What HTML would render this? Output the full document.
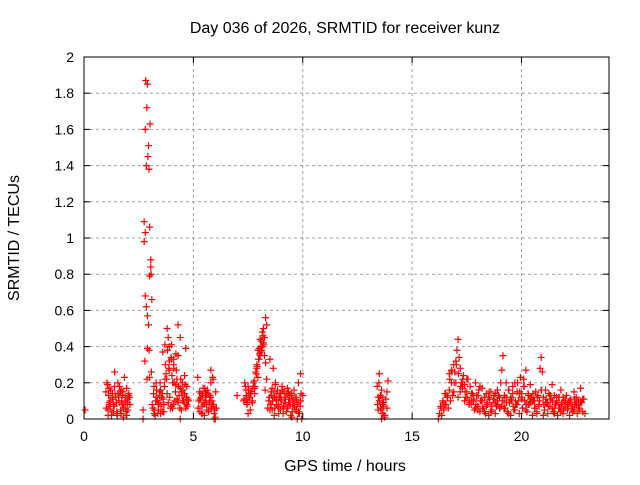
<!DOCTYPE html>
<html><head><meta charset="utf-8"><style>
body{margin:0;background:#fff;font-family:"Liberation Sans",sans-serif}
svg text{font-family:"Liberation Sans",sans-serif;font-size:14px;fill:#000}
svg text.ttl{font-size:16px}
</style></head><body>
<svg id="c" width="640" height="480">
<rect width="640" height="480" fill="#fff"/>
<g id="grid"></g><g id="pts"></g><g id="axes"></g>
</svg>
<script>
const hours=[0.05,1.0,1.05,1.1,1.15,1.2,1.25,1.3,1.35,1.4,1.45,1.5,1.55,1.6,1.65,1.7,1.75,1.8,1.85,1.9,1.95,2.0,2.05,2.1,1.1,1.2,1.3,1.4,1.5,1.6,1.7,1.8,1.9,2.0,1.15,1.35,1.55,1.75,1.95,
2.7,2.75,2.8,2.82,2.85,2.87,2.9,2.92,2.95,2.97,3.0,3.02,3.05,3.07,3.1,2.75,2.8,2.85,2.9,2.95,3.0,3.05,2.8,2.9,3.0,2.7,2.78,2.88,2.98,3.08,
3.15,3.2,3.25,3.3,3.35,3.4,3.45,3.5,3.55,3.6,3.65,3.7,3.75,3.8,3.85,3.9,3.95,4.0,4.05,4.1,4.15,4.2,4.25,4.3,4.35,4.4,4.45,4.5,4.55,4.6,4.65,4.7,4.75,3.2,3.3,3.4,3.5,3.6,3.7,3.8,3.9,4.0,4.1,4.2,4.3,4.4,4.5,4.6,4.7,3.25,3.45,3.65,3.85,4.05,4.25,4.45,4.65,3.8,3.9,4.0,4.1,4.3,4.4,
5.2,5.25,5.3,5.35,5.4,5.45,5.5,5.55,5.6,5.65,5.7,5.75,5.8,5.85,5.9,5.95,6.0,6.05,5.3,5.4,5.5,5.6,5.7,5.8,5.9,6.0,5.35,5.55,5.75,5.95,
7.0,7.3,7.35,7.4,7.45,7.5,7.55,7.6,7.65,7.7,7.75,7.8,7.85,7.9,7.95,8.0,8.05,8.1,8.15,8.2,8.25,8.3,8.35,8.4,7.4,7.5,7.6,7.7,7.8,7.9,8.0,8.1,8.2,8.3,7.95,8.05,8.15,8.25,8.35,
8.45,8.5,8.55,8.6,8.65,8.7,8.75,8.8,8.85,8.9,8.95,9.0,9.05,9.1,9.15,9.2,9.25,9.3,9.35,9.4,9.45,9.5,9.55,9.6,9.65,9.7,9.75,9.8,9.85,9.9,9.95,10.0,8.5,8.6,8.7,8.8,8.9,9.0,9.1,9.2,9.3,9.4,9.5,9.6,9.7,9.8,9.9,8.55,8.75,8.95,9.15,9.35,9.55,9.75,
13.4,13.45,13.5,13.55,13.6,13.65,13.7,13.75,13.8,13.85,13.9,13.45,13.55,13.65,13.75,13.85,13.5,13.6,
16.2,16.25,16.3,16.35,16.4,16.45,16.5,16.55,16.6,16.65,16.7,16.75,16.8,16.85,16.9,16.95,17.0,17.05,17.1,17.15,17.2,17.25,17.3,17.35,17.4,17.45,17.5,17.55,17.6,17.65,17.7,17.75,17.8,17.85,17.9,17.95,18.0,18.05,18.1,18.15,18.2,18.25,18.3,18.35,18.4,18.45,18.5,18.55,18.6,18.65,18.7,18.75,18.8,18.85,18.9,18.95,19.0,19.05,19.1,19.15,19.2,19.25,19.3,19.35,19.4,19.45,19.5,19.55,19.6,19.65,19.7,19.75,19.8,19.85,19.9,19.95,20.0,20.05,20.1,20.15,20.2,20.25,20.3,20.35,20.4,20.45,20.5,20.55,20.6,20.65,20.7,20.75,20.8,20.85,20.9,20.95,21.0,21.05,21.1,21.15,21.2,21.25,21.3,21.35,21.4,21.45,21.5,21.55,21.6,21.65,21.7,21.75,21.8,21.85,21.9,21.95,22.0,22.05,22.1,22.15,22.2,22.25,22.3,22.35,22.4,22.45,22.5,22.55,22.6,22.65,22.7,22.75,22.8,22.85,22.9,
16.5,16.7,16.9,17.1,17.3,17.5,17.7,17.9,18.1,18.3,18.5,18.7,18.9,19.1,19.3,19.5,19.7,19.9,20.1,20.3,20.5,20.7,20.9,21.1,21.3,21.5,21.7,21.9,22.1,22.3,22.5,22.7,
16.6,16.8,17.0,17.2,17.4,17.6,17.8,18.0,18.2,18.4,18.6,18.8,19.0,19.2,19.4,19.6,19.8,20.0,20.2,20.4,20.6,20.8,21.0,21.2,21.4,21.6,21.8,22.0,22.2,22.4,22.6,22.8,
1.02,1.08,1.12,1.18,1.22,1.28,1.32,1.38,1.42,1.48,1.52,1.58,1.62,1.68,1.72,1.78,1.82,1.88,1.92,1.98,2.02,2.08,
3.12,3.18,3.22,3.28,3.32,3.38,3.42,3.48,3.52,3.58,3.62,3.68,3.72,3.78,3.82,3.88,3.92,3.98,4.02,4.08,4.12,4.18,4.22,4.28,4.32,4.38,4.42,4.48,4.52,4.58,4.62,4.68,4.72,4.78,
5.22,5.28,5.32,5.38,5.42,5.48,5.52,5.58,5.62,5.68,5.72,5.78,5.82,5.88,5.92,5.98,6.02,
7.32,7.38,7.42,7.48,7.52,7.58,7.62,7.68,7.72,7.78,7.82,7.88,7.92,7.98,8.02,8.08,8.12,8.18,8.22,8.28,
8.48,8.52,8.58,8.62,8.68,8.72,8.78,8.82,8.88,8.92,8.98,9.02,9.08,9.12,9.18,9.22,9.28,9.32,9.38,9.42,9.48,9.52,9.58,9.62,9.68,9.72,9.78,9.82,9.88,9.92,
13.42,13.48,13.52,13.58,13.62,13.68,13.72,
16.32,16.42,16.52,16.62,16.72,16.82,16.92,17.02,17.12,17.22,17.32,17.42,17.52,17.62,17.72,17.82,17.92,18.02,18.12,18.22,18.32,18.42,18.52,18.62,18.72,18.82,18.92,19.02,19.12,19.22,19.32,19.42,19.52,19.62,19.72,19.82,19.92,20.02,20.12,20.22,20.32,20.42,20.52,20.62,20.72,20.82,20.92,21.02,21.12,21.22,21.32,21.42,21.52,21.62,21.72,21.82,21.92,22.02,22.12,22.22,22.32,22.42,22.52,22.62,22.72,22.82];
const tecu=[0.05,0.15,0.2,0.05,0.17,0.1,0.02,0.14,0.08,0.26,0.12,0.04,0.2,0.09,0.15,0.03,0.13,0.06,0.23,0.1,0.17,0.05,0.14,0.08,0.02,0.07,0.12,0.18,0.03,0.1,0.16,0.01,0.06,0.11,0.09,0.04,0.14,0.08,0.02,
0.05,1.09,1.6,1.87,1.4,1.72,1.85,1.45,1.51,1.38,1.06,1.63,0.88,0.8,0.66,0.98,0.68,0.62,0.57,0.52,0.79,0.84,1.03,0.39,0.23,0.0,0.32,0.22,0.38,0.26,
0.06,0.18,0.02,0.2,0.1,0.05,0.15,0.03,0.12,0.37,0.08,0.41,0.25,0.14,0.45,0.32,0.06,0.41,0.2,0.3,0.1,0.36,0.22,0.52,0.13,0.45,0.05,0.2,0.1,0.24,0.06,0.18,0.11,0.03,0.12,0.08,0.16,0.04,0.22,0.14,0.27,0.07,0.33,0.19,0.09,0.17,0.1,0.14,0.08,0.02,0.13,0.04,0.09,0.06,0.11,0.15,0.39,0.5,0.4,0.33,0.28,0.35,
0.0,0.23,0.1,0.04,0.14,0.07,0.17,0.02,0.12,0.08,0.16,0.05,0.13,0.27,0.1,0.22,0.03,0.0,0.06,0.11,0.03,0.09,0.14,0.04,0.2,0.07,0.01,0.12,0.15,0.1,
0.0,0.13,0.1,0.2,0.16,0.08,0.18,0.12,0.05,0.15,0.1,0.2,0.14,0.26,0.3,0.23,0.39,0.35,0.43,0.4,0.5,0.45,0.56,0.52,0.06,0.11,0.03,0.14,0.09,0.17,0.28,0.33,0.37,0.42,0.31,0.38,0.44,0.48,0.35,
0.22,0.1,0.33,0.15,0.05,0.28,0.12,0.2,0.08,0.16,0.03,0.14,0.1,0.18,0.06,0.15,0.11,0.04,0.17,0.09,0.13,0.02,0.14,0.07,0.16,0.05,0.11,0.08,0.2,0.03,0.1,0.0,0.13,0.05,0.17,0.02,0.11,0.07,0.14,0.03,0.12,0.06,0.09,0.01,0.08,0.12,0.04,0.25,0.08,0.19,0.12,0.07,0.15,0.1,
0.0,0.18,0.12,0.25,0.06,0.16,0.03,0.09,0.02,0.11,0.06,0.21,0.05,0.13,0.08,0.01,0.15,0.1,
0.0,0.0,0.03,0.07,0.02,0.1,0.05,0.14,0.08,0.12,0.06,0.16,0.1,0.2,0.13,0.3,0.26,0.32,0.38,0.44,0.34,0.28,0.2,0.17,0.24,0.19,0.12,0.15,0.22,0.1,0.18,0.08,0.14,0.1,0.05,0.2,0.13,0.07,0.16,0.04,0.1,0.17,0.06,0.12,0.03,0.14,0.08,0.02,0.11,0.15,0.05,0.09,0.13,0.03,0.07,0.1,0.13,0.06,0.2,0.27,0.35,0.1,0.06,0.12,0.04,0.16,0.09,0.02,0.1,0.14,0.05,0.2,0.08,0.15,0.1,0.03,0.23,0.12,0.06,0.18,0.1,0.27,0.04,0.14,0.08,0.19,0.12,0.02,0.1,0.06,0.15,0.03,0.13,0.08,0.28,0.34,0.26,0.12,0.05,0.16,0.09,0.03,0.14,0.07,0.11,0.19,0.04,0.13,0.08,0.1,0.02,0.12,0.06,0.16,0.09,0.03,0.1,0.06,0.13,0.05,0.09,0.02,0.11,0.07,0.04,0.15,0.08,0.12,0.03,0.1,0.06,0.17,0.09,0.04,0.11,
0.03,0.08,0.25,0.15,0.12,0.2,0.22,0.1,0.06,0.18,0.04,0.12,0.09,0.16,0.07,0.2,0.11,0.05,0.14,0.22,0.08,0.1,0.04,0.16,0.09,0.13,0.03,0.06,0.12,0.08,0.05,0.09,
0.1,0.13,0.27,0.2,0.15,0.1,0.08,0.13,0.05,0.1,0.07,0.04,0.09,0.12,0.06,0.03,0.18,0.08,0.14,0.05,0.11,0.1,0.07,0.02,0.09,0.06,0.12,0.04,0.07,0.1,0.05,0.08,
0.11,0.06,0.19,0.13,0.08,0.16,0.04,0.11,0.07,0.14,0.09,0.02,0.12,0.18,0.05,0.1,0.15,0.08,0.12,0.04,0.09,0.13,
0.12,0.08,0.14,0.05,0.1,0.16,0.03,0.09,0.2,0.07,0.14,0.11,0.18,0.3,0.22,0.38,0.28,0.12,0.34,0.24,0.08,0.2,0.15,0.27,0.1,0.18,0.06,0.22,0.13,0.16,0.09,0.19,0.12,0.07,
0.1,0.06,0.15,0.11,0.03,0.13,0.08,0.17,0.1,0.05,0.14,0.09,0.12,0.06,0.23,0.08,0.05,
0.15,0.11,0.18,0.13,0.09,0.16,0.12,0.14,0.1,0.17,0.21,0.18,0.25,0.29,0.33,0.36,0.4,0.38,0.46,0.41,
0.16,0.12,0.08,0.13,0.1,0.15,0.06,0.11,0.14,0.08,0.12,0.05,0.1,0.16,0.07,0.12,0.09,0.14,0.06,0.11,0.08,0.13,0.04,0.1,0.07,0.12,0.05,0.09,0.03,0.07,
0.14,0.08,0.2,0.1,0.05,0.12,0.07,
0.02,0.06,0.09,0.14,0.12,0.22,0.26,0.2,0.3,0.25,0.18,0.22,0.15,0.12,0.09,0.14,0.11,0.08,0.13,0.1,0.06,0.12,0.09,0.15,0.07,0.11,0.14,0.08,0.06,0.1,0.13,0.09,0.16,0.12,0.07,0.1,0.2,0.15,0.11,0.18,0.08,0.13,0.09,0.14,0.06,0.12,0.1,0.16,0.08,0.11,0.07,0.13,0.1,0.06,0.09,0.12,0.08,0.05,0.1,0.07,0.09,0.06,0.11,0.08,0.05,0.09];
const xTicks=[0,5,10,15,20];
const yTicks=[0,0.2,0.4,0.6,0.8,1,1.2,1.4,1.6,1.8,2];
const yLabels=["0","0.2","0.4","0.6","0.8","1","1.2","1.4","1.6","1.8","2"];
const L=84,R=609,T=57,B=419,NS="http://www.w3.org/2000/svg";
const X=h=>L+h/24*(R-L), Y=v=>B-v/2*(B-T);
function mk(tag,at,parent){const e=document.createElementNS(NS,tag);for(const k in at)e.setAttribute(k,at[k]);parent.appendChild(e);return e;}
const grid=document.getElementById('grid'),axes=document.getElementById('axes'),pts=document.getElementById('pts');
xTicks.forEach(t=>{
  const x=X(t);
  if(t>0){const g=mk('line',{x1:x,x2:x,y1:T,y2:B,stroke:'#a0a0a0','stroke-dasharray':'3,3'},grid);
  
  }
  mk('line',{x1:x,x2:x,y1:B,y2:B-6,stroke:'#000'},axes);
  mk('line',{x1:x,x2:x,y1:T,y2:T+6,stroke:'#000'},axes);
  const tx=mk('text',{x:x,y:B+22,'text-anchor':'middle'},axes);tx.textContent=t;
  
  
});
yTicks.forEach((t,i)=>{
  const y=Y(t);
  if(t>0&&t<2){const g=mk('line',{x1:L,x2:R,y1:y,y2:y,stroke:'#a0a0a0','stroke-dasharray':'3,3'},grid);
  
  }
  mk('line',{x1:L,x2:L+6,y1:y,y2:y,stroke:'#000'},axes);
  mk('line',{x1:R,x2:R-6,y1:y,y2:y,stroke:'#000'},axes);
  const tx=mk('text',{x:L-10,y:y+5,'text-anchor':'end'},axes);tx.textContent=yLabels[i];
  
  
});
const fr=mk('rect',{x:L,y:T,width:R-L,height:B-T,fill:'none',stroke:'#000'},axes);


let d='';
hours.forEach((h,i)=>{const x=X(h),y=Y(tecu[i]);d+=`M${x-3.5},${y}h7M${x},${y-3.5}v7`;});
const p=mk('path',{d:d,stroke:'#f00','stroke-width':1.2,fill:'none'},pts);


const ti=mk('text',{x:345,y:33,'text-anchor':'middle',class:'ttl'},axes);ti.textContent='Day 036 of 2026, SRMTID for receiver kunz';


const xl=mk('text',{x:345,y:471,'text-anchor':'middle',class:'ttl'},axes);xl.textContent='GPS time / hours';


const yl=mk('text',{x:0,y:0,'text-anchor':'middle',class:'ttl',transform:'translate(19,238) rotate(-90)'},axes);yl.textContent='SRMTID / TECUs';


</script>
</body></html>
